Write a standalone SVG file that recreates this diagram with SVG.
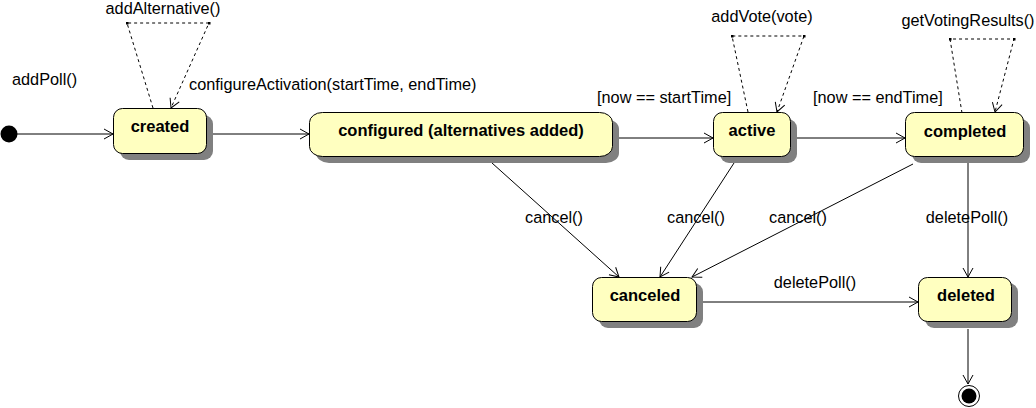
<svg xmlns="http://www.w3.org/2000/svg" width="1036" height="408" viewBox="0 0 1036 408">
<defs>
<marker id="arr" markerUnits="userSpaceOnUse" markerWidth="12" markerHeight="12" refX="10" refY="6" orient="auto" overflow="visible">
<path d="M1,1 L10,6 L1,11" fill="none" stroke="#000" stroke-width="1"/>
</marker>
</defs>
<style>
.st rect.sh{fill:#808080;stroke:none}
.st rect.bx{fill:#FFFFC0;stroke:#000;stroke-width:1}
.nl{font-family:"Liberation Sans",Arial,sans-serif;font-size:16.5px;font-weight:bold;text-anchor:middle;fill:#000}
.lb{font-family:"Liberation Sans",Arial,sans-serif;font-size:16.3px;fill:#000}
.c{text-anchor:middle}
.ln{fill:none;stroke:#000;stroke-width:1}
.ds{fill:none;stroke:#000;stroke-width:1;stroke-dasharray:3,3}
.dot{fill:#000}
</style>
<rect width="1036" height="408" fill="#fff"/>

<g id="connectors">
<line class="ln" x1="17" y1="134" x2="113" y2="134" marker-end="url(#arr)"/>
<line class="ln" x1="206" y1="134" x2="309" y2="134" marker-end="url(#arr)"/>
<line class="ln" x1="613" y1="138" x2="713" y2="138" marker-end="url(#arr)"/>
<line class="ln" x1="790" y1="138" x2="905" y2="138" marker-end="url(#arr)"/>
<line class="ln" x1="492" y1="163" x2="619" y2="277" marker-end="url(#arr)"/>
<line class="ln" x1="734" y1="163" x2="660" y2="277" marker-end="url(#arr)"/>
<line class="ln" x1="913" y1="164" x2="692" y2="277" marker-end="url(#arr)"/>
<line class="ln" x1="968" y1="157" x2="968" y2="277" marker-end="url(#arr)"/>
<line class="ln" x1="697" y1="302" x2="918" y2="302" marker-end="url(#arr)"/>
<line class="ln" x1="968" y1="329" x2="968" y2="384" marker-end="url(#arr)"/>
<polyline class="ds" points="153,108 127,23 209,23 171,108" marker-end="url(#arr)"/>
<polyline class="ds" points="748,112 732,36 804,36 777,112" marker-end="url(#arr)"/>
<polyline class="ds" points="962,113 950,39 1014,39 995,112" marker-end="url(#arr)"/>
<rect class="dot" x="126" y="22" width="2.5" height="2.5"/>
<rect class="dot" x="208" y="22" width="2.5" height="2.5"/>
<rect class="dot" x="731" y="35" width="2.5" height="2.5"/>
<rect class="dot" x="803" y="35" width="2.5" height="2.5"/>
<rect class="dot" x="949" y="38" width="2.5" height="2.5"/>
<rect class="dot" x="1013" y="38" width="2.5" height="2.5"/>
<text class="lb" x="12" y="85">addPoll()</text>
<text class="lb c" x="163" y="14">addAlternative()</text>
<text class="lb" x="189" y="90">configureActivation(startTime, endTime)</text>
<text class="lb" x="597" y="103">[now == startTime]</text>
<text class="lb c" x="762" y="22">addVote(vote)</text>
<text class="lb" x="813" y="103">[now == endTime]</text>
<text class="lb c" x="968" y="26">getVotingResults()</text>
<text class="lb c" x="554" y="223">cancel()</text>
<text class="lb c" x="696" y="223">cancel()</text>
<text class="lb c" x="798" y="223">cancel()</text>
<text class="lb c" x="967" y="223">deletePoll()</text>
<text class="lb c" x="815" y="288">deletePoll()</text>
</g>

<g id="initial">
<circle cx="9" cy="134" r="8.5" fill="#000"/>
</g>

<g id="created" class="st">
<rect class="sh" x="120" y="115" width="93" height="45" rx="9"/>
<rect class="bx" x="113.5" y="108.5" width="93" height="45" rx="9"/>
<text class="nl" x="160" y="132">created</text>
</g>

<g id="configured" class="st">
<rect class="sh" x="316" y="119" width="303" height="44" rx="13" ry="10"/>
<rect class="bx" x="309.5" y="112.5" width="303" height="44" rx="13" ry="10"/>
<text class="nl" x="461" y="136">configured (alternatives added)</text>
</g>

<g id="active" class="st">
<rect class="sh" x="720" y="119" width="77" height="44" rx="9"/>
<rect class="bx" x="713.5" y="112.5" width="77" height="44" rx="9"/>
<text class="nl" x="752" y="136">active</text>
</g>

<g id="completed" class="st">
<rect class="sh" x="912" y="119" width="118" height="44" rx="9"/>
<rect class="bx" x="905.5" y="112.5" width="118" height="44" rx="9"/>
<text class="nl" x="965" y="137">completed</text>
</g>

<g id="canceled" class="st">
<rect class="sh" x="599" y="283" width="104" height="45" rx="9"/>
<rect class="bx" x="592.5" y="277.5" width="104" height="44" rx="9"/>
<text class="nl" x="645" y="301">canceled</text>
</g>

<g id="deleted" class="st">
<rect class="sh" x="925" y="283" width="93" height="45" rx="9"/>
<rect class="bx" x="918.5" y="277.5" width="93" height="44" rx="9"/>
<text class="nl" x="966" y="301">deleted</text>
</g>

<g id="final">
<circle cx="969" cy="396" r="10.5" fill="#fff" stroke="#000" stroke-width="1"/>
<circle cx="969" cy="396" r="7.5" fill="#000"/>
</g>
</svg>
